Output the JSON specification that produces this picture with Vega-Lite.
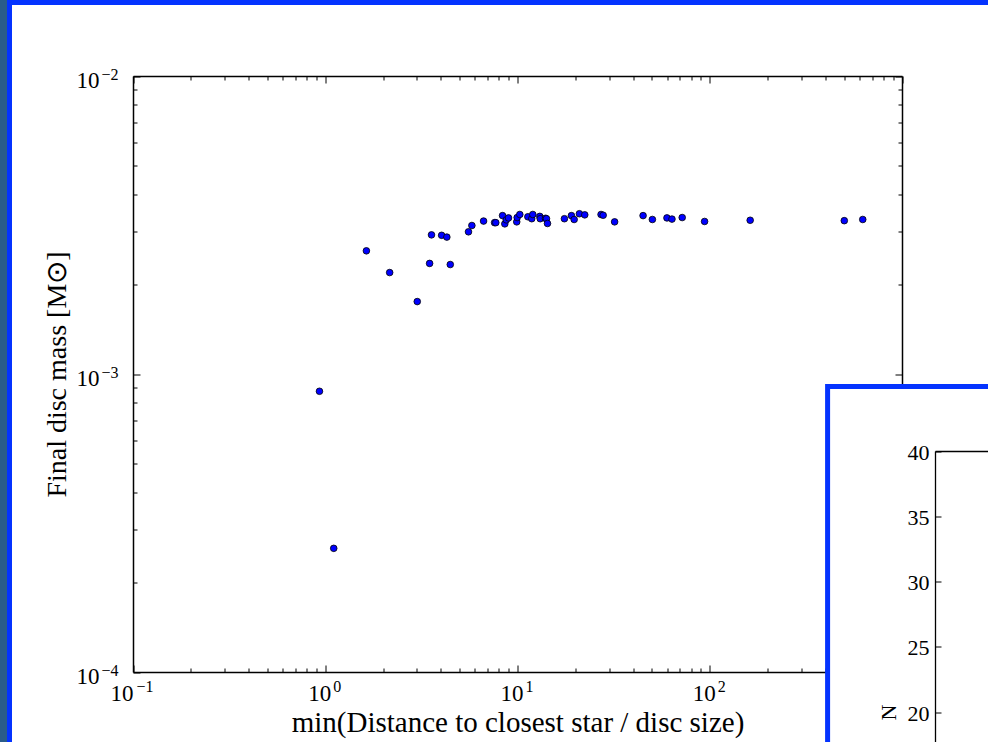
{
  "$schema": "https://vega.github.io/schema/vega-lite/v6.json",
  "width": 981,
  "height": 742,
  "autosize": {"type": "none"},
  "padding": {"left": 9.5, "top": 2.5, "right": -2.5, "bottom": -2.5},
  "background": "#2a5c8a",
  "view": {"fill": "white", "stroke": "#0433ff", "strokeWidth": 5},
  "config": {
    "axis": {
      "labelFont": "Liberation Serif",
      "titleFont": "Liberation Serif",
      "labelColor": "black",
      "titleColor": "black",
      "titleFontWeight": "normal",
      "domainColor": "black",
      "tickColor": "black",
      "grid": false,
      "labelFlush": false,
      "labelOverlap": false,
      "labelBound": false
    }
  },
  "layer": [
    {
      "data": {
        "values": [
          {"ratio": 0.933, "mass": 0.000875},
          {"ratio": 1.107, "mass": 0.00026},
          {"ratio": 1.637, "mass": 0.00259},
          {"ratio": 2.163, "mass": 0.00219},
          {"ratio": 3.01, "mass": 0.00175},
          {"ratio": 3.49, "mass": 0.00235},
          {"ratio": 3.57, "mass": 0.00293},
          {"ratio": 4.03, "mass": 0.00292},
          {"ratio": 4.29, "mass": 0.00288},
          {"ratio": 4.47, "mass": 0.00233},
          {"ratio": 5.56, "mass": 0.003},
          {"ratio": 5.79, "mass": 0.00315},
          {"ratio": 6.66, "mass": 0.00326},
          {"ratio": 7.6, "mass": 0.00322},
          {"ratio": 7.71, "mass": 0.00322},
          {"ratio": 8.36, "mass": 0.0034},
          {"ratio": 8.59, "mass": 0.00319},
          {"ratio": 8.74, "mass": 0.00329},
          {"ratio": 8.98, "mass": 0.00334},
          {"ratio": 9.91, "mass": 0.00324},
          {"ratio": 9.96, "mass": 0.00335},
          {"ratio": 10.28, "mass": 0.00343},
          {"ratio": 11.32, "mass": 0.00337},
          {"ratio": 11.86, "mass": 0.00332},
          {"ratio": 12.01, "mass": 0.00343},
          {"ratio": 13.06, "mass": 0.00338},
          {"ratio": 13.13, "mass": 0.00332},
          {"ratio": 13.98, "mass": 0.00333},
          {"ratio": 14.15, "mass": 0.00332},
          {"ratio": 14.32, "mass": 0.0032},
          {"ratio": 17.54, "mass": 0.00332},
          {"ratio": 19.08, "mass": 0.0034},
          {"ratio": 19.71, "mass": 0.0033},
          {"ratio": 20.99, "mass": 0.00345},
          {"ratio": 22.38, "mass": 0.00342},
          {"ratio": 27.2, "mass": 0.00343},
          {"ratio": 27.9, "mass": 0.00341},
          {"ratio": 32.0, "mass": 0.00324},
          {"ratio": 45.0, "mass": 0.0034},
          {"ratio": 50.3, "mass": 0.0033},
          {"ratio": 59.9, "mass": 0.00334},
          {"ratio": 63.6, "mass": 0.00331},
          {"ratio": 71.9, "mass": 0.00335},
          {"ratio": 94.0, "mass": 0.00325},
          {"ratio": 162.3, "mass": 0.00328},
          {"ratio": 501, "mass": 0.00327},
          {"ratio": 625, "mass": 0.0033}
        ]
      },
      "layer": [
        {
          "mark": {"type": "point", "filled": true, "shape": "circle", "size": 44, "color": "#0000ff", "stroke": "black", "strokeWidth": 0.8, "opacity": 1},
          "encoding": {
            "x": {
              "field": "ratio",
              "type": "quantitative",
              "scale": {"type": "log", "domain": [0.1, 1000], "range": [123.5, 892.5], "nice": false},
              "axis": {
                "orient": "bottom",
                "offset": -72.5,
                "values": [0.1, 0.2, 0.3, 0.4, 0.5, 0.6, 0.7, 0.8, 0.9, 1, 2, 3, 4, 5, 6, 7, 8, 9, 10, 20, 30, 40, 50, 60, 70, 80, 90, 100, 200, 300, 400, 500, 600, 700, 800, 900, 1000],
                "labelExpr": "indexof([0.1, 1, 10, 100, 1000], datum.value) >= 0 ? '10' : ''",
                "tickSize": {"condition": {"test": "indexof([0.1, 1, 10, 100, 1000], datum.value) >= 0", "value": -7}, "value": -4},
                "tickWidth": 1,
                "domainWidth": 1.5,
                "labelFontSize": 23,
                "labelAlign": "center",
                "labelBaseline": "alphabetic",
                "labelPadding": 35,
                "labelOffset": {"condition": {"test": "datum.value == 0.1", "value": -11.5}, "value": -6},
                "title": "min(Distance to closest star / disc size)",
                "titleFontSize": 29,
                "titleBaseline": "alphabetic",
                "titleY": 59
              }
            },
            "y": {
              "field": "mass",
              "type": "quantitative",
              "scale": {"type": "log", "domain": [0.0001, 0.01], "range": [669.5, 73.5], "nice": false},
              "axis": {
                "orient": "left",
                "offset": -123.5,
                "values": [0.0001, 0.0002, 0.0003, 0.0004, 0.0005, 0.0006, 0.0007, 0.0008, 0.0009, 0.001, 0.002, 0.003, 0.004, 0.005, 0.006, 0.007, 0.008, 0.009, 0.01],
                "labelExpr": "indexof([0.0001, 0.001, 0.01], datum.value) >= 0 ? '10' : ''",
                "tickSize": {"condition": {"test": "indexof([0.0001, 0.001, 0.01], datum.value) >= 0", "value": -7}, "value": -4},
                "tickWidth": 1,
                "domainWidth": 1.5,
                "labelFontSize": 23,
                "labelAlign": "right",
                "labelBaseline": "alphabetic",
                "labelPadding": 41,
                "labelOffset": 11,
                "title": "Final disc mass [M⊙]",
                "titleFontSize": 28,
                "titleBaseline": "alphabetic",
                "titleAngle": -90,
                "titleX": -68
              }
            }
          }
        },
        {
          "mark": {"type": "point", "opacity": 0},
          "encoding": {
            "x": {
              "field": "ratio",
              "type": "quantitative",
              "axis": {
                "orient": "top",
                "offset": -73.5,
                "values": [0.1, 0.2, 0.3, 0.4, 0.5, 0.6, 0.7, 0.8, 0.9, 1, 2, 3, 4, 5, 6, 7, 8, 9, 10, 20, 30, 40, 50, 60, 70, 80, 90, 100, 200, 300, 400, 500, 600, 700, 800, 900, 1000],
                "labels": false,
                "tickSize": {"condition": {"test": "indexof([0.1, 1, 10, 100, 1000], datum.value) >= 0", "value": -7}, "value": -4},
                "tickWidth": 1,
                "domainWidth": 1.5,
                "title": null
              }
            },
            "y": {
              "field": "mass",
              "type": "quantitative",
              "axis": {
                "orient": "right",
                "offset": -88.5,
                "values": [0.0001, 0.0002, 0.0003, 0.0004, 0.0005, 0.0006, 0.0007, 0.0008, 0.0009, 0.001, 0.002, 0.003, 0.004, 0.005, 0.006, 0.007, 0.008, 0.009, 0.01],
                "labels": false,
                "tickSize": {"condition": {"test": "indexof([0.0001, 0.001, 0.01], datum.value) >= 0", "value": -7}, "value": -4},
                "tickWidth": 1,
                "domainWidth": 1.5,
                "title": null
              }
            }
          }
        },
        {
          "mark": {"type": "point", "opacity": 0},
          "encoding": {
            "x": {
              "field": "ratio",
              "type": "quantitative",
              "axis": {
                "orient": "bottom",
                "offset": -72.5,
                "values": [0.1, 1, 10, 100, 1000],
                "labelExpr": "datum.value == 0.1 ? '−1' : datum.value == 1 ? '0' : datum.value == 10 ? '1' : datum.value == 100 ? '2' : '3'",
                "domain": false,
                "tickSize": 0,
                "tickOpacity": 0,
                "labelFontSize": 16,
                "labelAlign": "center",
                "labelBaseline": "alphabetic",
                "labelPadding": 19,
                "labelOffset": 11.5,
                "title": null
              }
            },
            "y": {
              "field": "mass",
              "type": "quantitative",
              "axis": {
                "orient": "left",
                "offset": -123.5,
                "values": [0.0001, 0.001, 0.01],
                "labelExpr": "datum.value == 0.0001 ? '−4' : datum.value == 0.001 ? '−3' : '−2'",
                "domain": false,
                "tickSize": 0,
                "tickOpacity": 0,
                "labelFontSize": 16,
                "labelAlign": "left",
                "labelBaseline": "alphabetic",
                "labelPadding": 32,
                "labelOffset": 3,
                "title": null
              }
            }
          }
        }
      ],
      "resolve": {"axis": {"x": "independent", "y": "independent"}}
    },
    {
      "data": {"values": [{}]},
      "mark": {"type": "rect", "fill": "white", "stroke": "#0433ff", "strokeWidth": 5},
      "encoding": {
        "x": {
          "datum": -1.79,
          "type": "quantitative",
          "scale": {"domain": [0, 10], "range": [925.5, 1525.5], "nice": false, "zero": false},
          "axis": {"orient": "top", "offset": -448.5, "ticks": false, "labels": false, "domainWidth": 1.3, "title": null, "zindex": 1}
        },
        "x2": {"datum": 40},
        "y": {
          "datum": 44.94,
          "type": "quantitative",
          "scale": {"domain": [0, 40], "range": [970.5, 448.5], "nice": false},
          "axis": {
            "orient": "left",
            "offset": -925.5,
            "values": [20, 25, 30, 35, 40],
            "tickSize": -6,
            "tickWidth": 1,
            "labelFontSize": 22,
            "labelBaseline": "middle",
            "labelPadding": 12,
            "labelOffset": 1,
            "domainWidth": 1.3,
            "title": "N",
            "titleFontSize": 22,
            "titleBaseline": "alphabetic",
            "titleAngle": -90,
            "titleX": -40,
            "zindex": 1
          }
        },
        "y2": {"datum": -20}
      }
    }
  ],
  "resolve": {"scale": {"x": "independent", "y": "independent"}, "axis": {"x": "independent", "y": "independent"}}
}
